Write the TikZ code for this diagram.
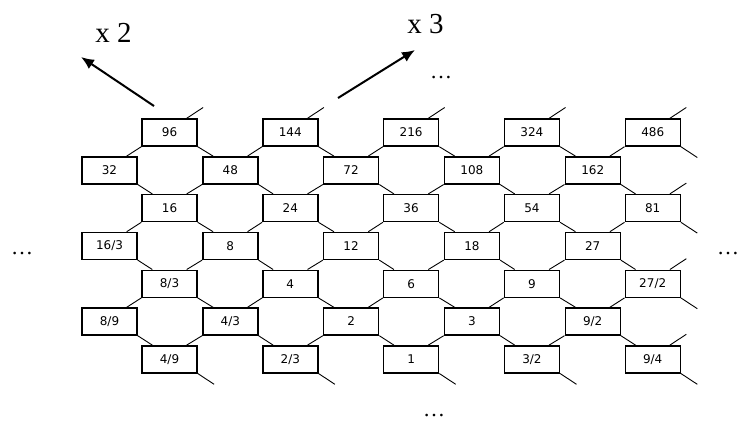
\documentclass[tikz,border=0pt]{standalone}
\usepackage{fontspec}
\usepackage{tikz}
\usetikzlibrary{arrows.meta}
\newfontfamily\numfont{DejaVu Sans}
\newfontfamily\serfont{Liberation Serif}

\begin{document}
\begin{tikzpicture}[x=1pt, y=-1pt,
    numbox/.style={draw, line width=1.4pt, minimum width=55pt, minimum height=27pt, inner sep=0pt, font=\numfont\fontsize{12}{14}\selectfont},
    link/.style={line width=0.9pt},
    factor/.style={anchor=base, inner sep=0pt, font=\serfont\fontsize{29}{30}\selectfont},
    moredots/.style={anchor=base, inner sep=0pt, font=\serfont\fontsize{22}{24}\selectfont}]
    \useasboundingbox (0,0) rectangle (738,421);

    % Boxes (odd rows start at 169.5, even rows at 109.5)
    \foreach \v [count=\c] in {96,144,216,324,486}
        \node[numbox] (b1\c) at ({169.5+120.8*(\c-1)},132.5) {\v};
    \foreach \v [count=\c] in {32,48,72,108,162}
        \node[numbox] (b2\c) at ({109.5+120.8*(\c-1)},170.3) {\v};
    \foreach \v [count=\c] in {16,24,36,54,81}
        \node[numbox] (b3\c) at ({169.5+120.8*(\c-1)},208.1) {\v};
    \foreach \v [count=\c] in {16/3,8,12,18,27}
        \node[numbox] (b4\c) at ({109.5+120.8*(\c-1)},245.9) {\v};
    \foreach \v [count=\c] in {8/3,4,6,9,27/2}
        \node[numbox] (b5\c) at ({169.5+120.8*(\c-1)},283.7) {\v};
    \foreach \v [count=\c] in {8/9,4/3,2,3,9/2}
        \node[numbox] (b6\c) at ({109.5+120.8*(\c-1)},321.5) {\v};
    \foreach \v [count=\c] in {4/9,2/3,1,3/2,9/4}
        \node[numbox] (b7\c) at ({169.5+120.8*(\c-1)},359.3) {\v};

    % Links down from odd rows
    \foreach \r [evaluate=\r as \s using int(\r+1)] in {1,3,5} {
        \foreach \c in {1,...,5}
            \draw[link] (b\r\c.south west) -- ([xshift=-11pt]b\s\c.north east);
        \foreach \c [evaluate=\c as \d using int(\c+1)] in {1,...,4}
            \draw[link] (b\r\c.south east) -- ([xshift=11pt]b\s\d.north west);
    }
    % Links down from even rows
    \foreach \r [evaluate=\r as \s using int(\r+1)] in {2,4,6} {
        \foreach \c in {1,...,5}
            \draw[link] (b\r\c.south east) -- ([xshift=11pt]b\s\c.north west);
        \foreach \c [evaluate=\c as \d using int(\c-1)] in {2,...,5}
            \draw[link] (b\r\c.south west) -- ([xshift=-11pt]b\s\d.north east);
    }

    % Open ends: up-right and down-right
    \foreach \rc in {11,12,13,14,15,35,55,75} {
        \coordinate (up\rc) at ([xshift=5.4pt,yshift=10.8pt]b\rc.north east);
        \draw[link] ([xshift=-11pt]b\rc.north east) -- (up\rc);
    }
    \foreach \rc in {15,35,55,71,72,73,74,75} {
        \coordinate (dn\rc) at ([xshift=16.4pt,yshift=-10.8pt]b\rc.south east);
        \draw[link] (b\rc.south east) -- (dn\rc);
    }

    % Factors
    \coordinate (twofrom) at (154,106);
    \coordinate (twoto) at (81,57);
    \coordinate (threefrom) at (338,98);
    \coordinate (threeto) at (415,50);
    \draw[line width=2pt, -{Latex[length=13pt,width=11pt]}] (twofrom) -- (twoto);
    \draw[line width=2pt, -{Latex[length=13pt,width=11pt]}] (threefrom) -- (threeto);
    \node[factor] (xtwo) at (113.5,42) {x 2};
    \node[factor] (xthree) at (425.5,33) {x 3};

    % Continuation dots
    \node[moredots] (dotstop) at (441,78) {…};
    \node[moredots] (dotsleft) at (22,254) {…};
    \node[moredots] (dotsright) at (728,254) {…};
    \node[moredots] (dotsbottom) at (434,416.5) {…};
\end{tikzpicture}
\end{document}
